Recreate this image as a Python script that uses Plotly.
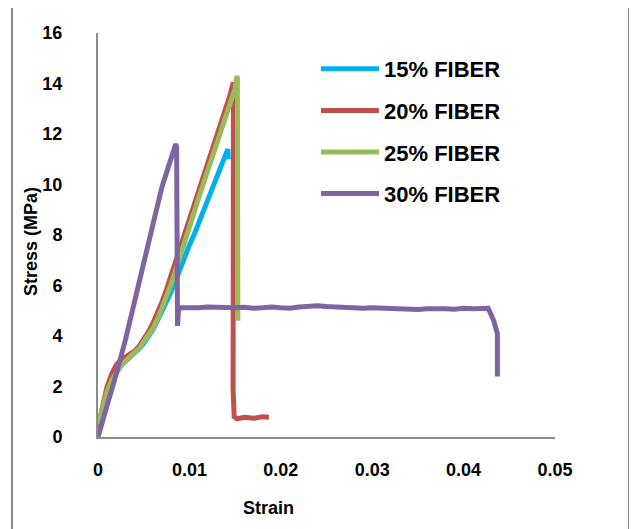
import plotly.graph_objects as go

# ---- data ----
series_names = ["15% FIBER", "20% FIBER", "25% FIBER", "30% FIBER"]

blue_strain = [0, 0.0005, 0.001, 0.0015, 0.002, 0.0025, 0.003, 0.0035, 0.004, 0.0045, 0.005,
               0.0055, 0.006, 0.0065, 0.007, 0.0075, 0.008, 0.0085, 0.009, 0.0095, 0.010,
               0.0105, 0.011, 0.0115, 0.012, 0.0125, 0.013, 0.0135, 0.014, 0.0142, 0.01425]
blue_stress = [0.3, 1.0, 1.7, 2.25, 2.6, 2.85, 3.0, 3.15, 3.3, 3.5, 3.7,
               3.95, 4.25, 4.6, 4.95, 5.35, 5.75, 6.2, 6.7, 7.2, 7.6,
               8.0, 8.45, 8.9, 9.35, 9.8, 10.2, 10.65, 11.1, 11.4, 11.0]

red_strain = [0, 0.0005, 0.001, 0.0015, 0.002, 0.0025, 0.003, 0.0035, 0.004, 0.0045, 0.005,
              0.0055, 0.006, 0.0065, 0.007, 0.0075, 0.008, 0.0085, 0.009, 0.0095, 0.010,
              0.0105, 0.011, 0.0115, 0.012, 0.0125, 0.013, 0.0135, 0.014, 0.0145, 0.0148,
              0.01482, 0.01478, 0.0149, 0.0152, 0.016, 0.017, 0.018, 0.0187]
red_stress = [0.4, 1.3, 2.0, 2.5, 2.85, 3.05, 3.15, 3.25, 3.4, 3.6, 3.85,
              4.15, 4.5, 4.9, 5.35, 5.85, 6.4, 6.95, 7.55, 8.1, 8.65,
              9.2, 9.75, 10.3, 10.85, 11.4, 11.95, 12.5, 13.05, 13.6, 14.05,
              14.0, 1.9, 0.8, 0.72, 0.78, 0.74, 0.8, 0.78]

green_strain = [0, 0.0005, 0.001, 0.0015, 0.002, 0.0025, 0.003, 0.0035, 0.004, 0.0045, 0.005,
                0.0055, 0.006, 0.0065, 0.007, 0.0075, 0.008, 0.0085, 0.009, 0.0095, 0.010,
                0.0105, 0.011, 0.0115, 0.012, 0.0125, 0.013, 0.0135, 0.014, 0.0145, 0.015,
                0.0152, 0.01525, 0.0153]
green_stress = [0.5, 1.2, 1.8, 2.25, 2.55, 2.8, 3.0, 3.2, 3.35, 3.5, 3.75,
                4.0, 4.3, 4.65, 5.1, 5.55, 6.05, 6.6, 7.2, 7.75, 8.3,
                8.9, 9.45, 10.0, 10.55, 11.1, 11.65, 12.15, 12.65, 13.2, 13.8,
                14.3, 14.2, 4.6]

purple_strain = [0, 0.001, 0.002, 0.003, 0.004, 0.005, 0.006, 0.007, 0.0075, 0.008, 0.0085,
                 0.0086, 0.0087, 0.0088, 0.009, 0.010, 0.011, 0.012, 0.013, 0.014, 0.015,
                 0.016, 0.017, 0.018, 0.019, 0.020, 0.021, 0.022, 0.023, 0.024, 0.025,
                 0.026, 0.027, 0.028, 0.029, 0.030, 0.031, 0.032, 0.033, 0.034, 0.035,
                 0.036, 0.037, 0.038, 0.039, 0.040, 0.041, 0.042, 0.0427, 0.0433, 0.0437, 0.0437]
purple_stress = [0.0, 1.2, 2.5, 3.85, 5.3, 6.8, 8.4, 9.9, 10.5, 11.1, 11.6,
                 11.5, 4.4, 5.0, 5.12, 5.1, 5.12, 5.15, 5.13, 5.15, 5.12,
                 5.14, 5.1, 5.12, 5.15, 5.12, 5.1, 5.15, 5.18, 5.2, 5.17,
                 5.15, 5.12, 5.13, 5.1, 5.12, 5.1, 5.08, 5.1, 5.07, 5.05,
                 5.08, 5.1, 5.08, 5.06, 5.1, 5.08, 5.1, 5.1, 4.6, 4.1, 2.4]

x_ticks = [0, 0.01, 0.02, 0.03, 0.04, 0.05]
x_tick_labels = ["0", "0.01", "0.02", "0.03", "0.04", "0.05"]
y_ticks = [0, 2, 4, 6, 8, 10, 12, 14, 16]

colors = ["#00B0F0", "#C0504D", "#9BBB59", "#8064A2"]
xs = [blue_strain, red_strain, green_strain, purple_strain]
ys = [blue_stress, red_stress, green_stress, purple_stress]

FONT = "Liberation Sans, Arial, sans-serif"

fig = go.Figure()
for name, c, x, y in zip(series_names, colors, xs, ys):
    fig.add_trace(go.Scatter(x=x, y=y, mode="lines", name="<b>" + name + "</b>",
                             legendgroup=name, line=dict(color=c, width=5)))

# page body has an 8px default margin; work in reference pixel coords and shift
OFF = 8
W, H = 637 - OFF, 529 - OFF
L, R, T, B = 98 - OFF, 637 - 555, 33 - OFF, 529 - 437
pw, ph = W - L - R, H - T - B

def px(xp):
    return (xp - OFF - L) / pw

def py(yp):
    return (H - B - (yp - OFF)) / ph

fig.update_layout(
    width=W, height=H,
    margin=dict(l=L, r=R, t=T, b=B, autoexpand=False),
    paper_bgcolor="white", plot_bgcolor="white",
    font=dict(family=FONT, size=18, color="black"),
    showlegend=True,
    legend=dict(x=px(316), y=py(48), xanchor="left", yanchor="top",
                font=dict(family=FONT, size=22, color="black"),
                bgcolor="rgba(0,0,0,0)", tracegroupgap=10, itemwidth=58,
                traceorder="grouped"),
    xaxis=dict(range=[0, 0.05], tickvals=x_ticks, ticktext=x_tick_labels,
               showgrid=False, zeroline=False, showline=True,
               linecolor="#8c8c8c", linewidth=2, ticks="outside", ticklen=0,
               ticklabelstandoff=15,
               tickfont=dict(family=FONT, size=18, color="black", weight="bold")),
    yaxis=dict(range=[0, 16], tickvals=y_ticks,
               showgrid=False, zeroline=False, showline=True,
               linecolor="#8c8c8c", linewidth=2, ticks="outside", ticklen=0,
               ticklabelstandoff=30,
               tickfont=dict(family=FONT, size=18, color="black", weight="bold")),
    shapes=[dict(type="rect", xref="paper", yref="paper",
                 x0=px(12), x1=px(629), y0=py(540), y1=py(6),
                 line=dict(color="#8a8a8a", width=2), fillcolor="rgba(0,0,0,0)",
                 layer="below")],
    annotations=[
        dict(text="<b>Strain</b>", xref="paper", yref="paper", x=px(268), y=py(508),
             xanchor="center", yanchor="middle", showarrow=False,
             font=dict(family=FONT, size=18, color="black")),
        dict(text="<b>Stress (MPa)</b>", xref="paper", yref="paper", x=px(31), y=py(242),
             xanchor="center", yanchor="middle", showarrow=False, textangle=-90,
             font=dict(family=FONT, size=18, color="black")),
    ],
)

fig.write_html("out.html")
